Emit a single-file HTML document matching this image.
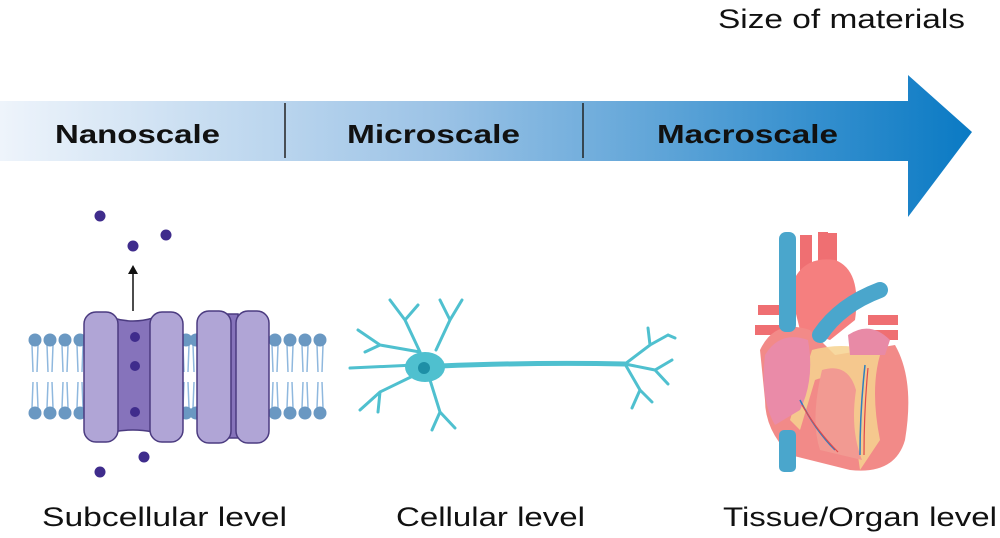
<!DOCTYPE html>
<html><head><meta charset="utf-8"><style>
body{margin:0;background:#fff;width:1000px;height:538px;overflow:hidden}
svg{display:block;font-family:"Liberation Sans",sans-serif}
</style></head><body>
<svg width="1000" height="538" viewBox="0 0 1000 538">
<defs>
<linearGradient id="g" x1="0" x2="1" y1="0" y2="0">
<stop offset="0" stop-color="#eef4fb"/><stop offset="0.45" stop-color="#9cc3e6"/><stop offset="1" stop-color="#0a7ac4"/>
</linearGradient>
<g id="lp">
<path d="M-3 345 L-2 372 M3 345 L2 372 M-2 382 L-3 408 M2 382 L3 408" stroke="#8fb8de" stroke-width="1.5" fill="none"/>
<circle cx="0" cy="340" r="6.5" fill="#6a98c2"/><circle cx="0" cy="413" r="6.5" fill="#6a98c2"/>
</g>
</defs>
<text x="718" y="28" font-size="27" textLength="247" lengthAdjust="spacingAndGlyphs" fill="#111">Size of materials</text>
<path d="M0 101 H908 V75 L972 132 L908 217 V161 H0 Z" fill="url(#g)"/>
<line x1="285" y1="103" x2="285" y2="158" stroke="#222" stroke-width="1.5"/>
<line x1="583" y1="103" x2="583" y2="158" stroke="#222" stroke-width="1.5"/>
<g font-size="26" font-weight="bold" fill="#111" lengthAdjust="spacingAndGlyphs">
<text x="55" y="143" textLength="165" lengthAdjust="spacingAndGlyphs">Nanoscale</text>
<text x="347" y="143" textLength="173" lengthAdjust="spacingAndGlyphs">Microscale</text>
<text x="657" y="143" textLength="181" lengthAdjust="spacingAndGlyphs">Macroscale</text>
</g>
<g>
<use href="#lp" x="35"/><use href="#lp" x="50"/><use href="#lp" x="65"/><use href="#lp" x="80"/>
<use href="#lp" x="186"/><use href="#lp" x="196"/>
<use href="#lp" x="275"/><use href="#lp" x="290"/><use href="#lp" x="305"/><use href="#lp" x="320"/>
<g stroke="#4b3b80" stroke-width="1.5">
<path d="M113 318 Q133 324 153 318 V432 Q133 428 113 432 Z" fill="#8673bb"/>
<rect x="84" y="312" width="34" height="130" rx="12" fill="#b0a5d6"/>
<rect x="150" y="312" width="33" height="130" rx="12" fill="#b0a5d6"/>
<rect x="218" y="314" width="20" height="124" fill="#8673bb"/>
<rect x="197" y="311" width="34" height="132" rx="12" fill="#b0a5d6"/>
<rect x="236" y="311" width="33" height="132" rx="12" fill="#b0a5d6"/>
</g>
<g fill="#3f2c8c">
<circle cx="135" cy="337" r="5"/><circle cx="135" cy="366" r="5"/><circle cx="135" cy="412" r="5"/>
<circle cx="100" cy="216" r="5.5"/><circle cx="133" cy="246" r="5.5"/><circle cx="166" cy="235" r="5.5"/>
<circle cx="144" cy="457" r="5.5"/><circle cx="100" cy="472" r="5.5"/>
</g>
<path d="M133 311 V272" stroke="#111" stroke-width="1.5"/><path d="M128 274 L133 265 L138 274 Z" fill="#111"/>
</g>
<g stroke="#4fc0cf" fill="none" stroke-linecap="round">
<path d="M440 366 Q540 362 625 364" stroke-width="5"/>
<path d="M625 364 L650 345 L668 335 M650 345 L648 328 M625 364 L655 370 L672 360 M655 370 L668 384 M625 364 L640 390 L632 408 M640 390 L652 402 M668 335 L675 338" stroke-width="3"/>
<path d="M420 352 L405 320 L390 300 M405 320 L418 305 M420 352 L380 345 L358 330 M380 345 L365 352 M415 375 L380 392 L360 410 M380 392 L378 412 M430 380 L440 412 L432 430 M440 412 L455 428 M436 350 L450 320 L462 300 M450 320 L440 300 M415 365 L350 368" stroke-width="3"/>
<ellipse cx="425" cy="367" rx="20" ry="15" fill="#4fc0cf" stroke="none"/>
<circle cx="424" cy="368" r="6" fill="#1e8fa6" stroke="none"/>
</g>
<g>
<path d="M758 305 h30 v10 h-30Z M755 325 h30 v10 h-30Z M868 315 h30 v10 h-30Z M868 330 h30 v10 h-30Z" fill="#ef6f72"/>
<path d="M800 235 h12 v40 h-12Z M818 232 h10 v40 h-10Z M827 233 h10 v40 h-10Z" fill="#ef6f72"/>
<path d="M790 290 Q800 255 835 260 Q862 270 855 320 L830 340 L800 330 Z" fill="#f57f7f"/>
<path d="M760 350 Q775 318 810 330 L835 355 L895 345 Q915 380 905 440 Q895 475 850 470 L790 455 Q765 430 765 400 Z" fill="#f28a88"/>
<path d="M812 350 Q850 340 880 355 Q870 390 880 440 L860 470 L850 400 Q840 370 815 380 L800 430 L790 420 Z" fill="#f6d28f" opacity="0.85"/>
<path d="M822 370 Q848 362 856 390 Q850 430 862 460 L820 450 Q810 420 822 370Z" fill="#f29a92"/>
<rect x="779" y="232" width="17" height="100" rx="7" fill="#4aa6cc"/>
<rect x="779" y="430" width="17" height="42" rx="5" fill="#4aa6cc"/>
<path d="M765 355 Q780 330 808 340 Q815 380 800 410 L775 425 Q760 400 765 355Z" fill="#ea8ba8"/>
<path d="M848 335 Q870 320 890 340 L885 355 L850 355Z" fill="#e88aa6"/>
<path d="M820 335 Q840 305 880 290" stroke="#4aa6cc" stroke-width="16" fill="none" stroke-linecap="round"/>
<path d="M800 400 Q815 430 835 450 M865 365 Q860 410 860 455" stroke="#2f7fbf" stroke-width="1.5" fill="none"/>
<path d="M802 405 Q818 432 838 452 M868 368 Q864 410 864 455" stroke="#e0484c" stroke-width="1.2" fill="none"/>
</g>
<g font-size="27" fill="#111">
<text x="42" y="526" textLength="245" lengthAdjust="spacingAndGlyphs">Subcellular level</text>
<text x="396" y="526" textLength="189" lengthAdjust="spacingAndGlyphs">Cellular level</text>
<text x="723" y="526" textLength="274" lengthAdjust="spacingAndGlyphs">Tissue/Organ level</text>
</g>
</svg>
</body></html>
